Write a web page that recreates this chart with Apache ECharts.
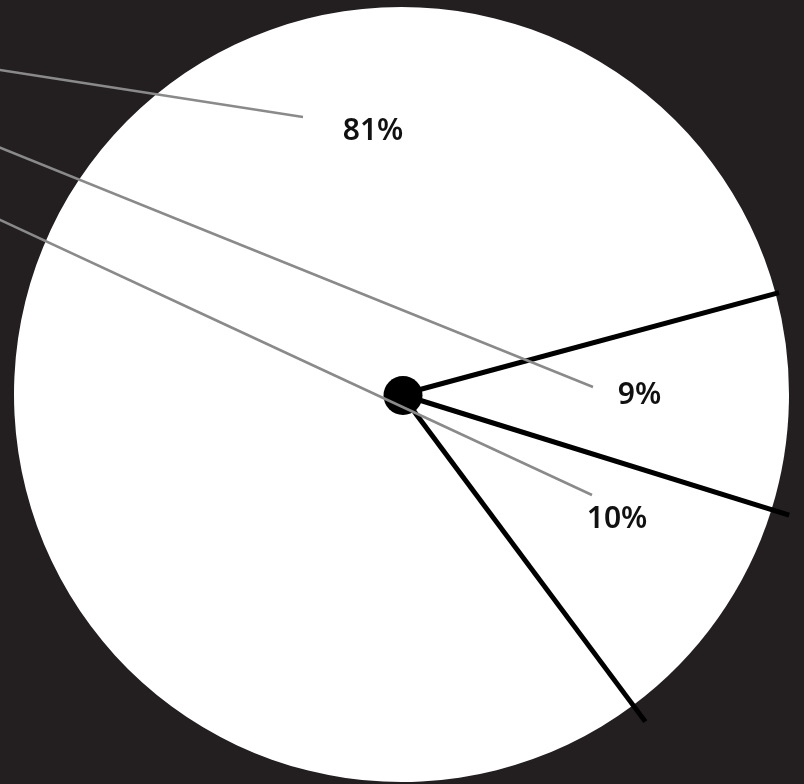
<!DOCTYPE html>
<html>
<head>
<meta charset="utf-8">
<style>
  html, body { margin: 0; padding: 0; background: #231f20; }
  #chart { width: 804px; height: 784px; }
</style>
<script src="https://cdn.jsdelivr.net/npm/echarts@6/dist/echarts.min.js"></script>
</head>
<body>
<div id="chart"></div>
<script>
// ---- data ----
const categories = ['A', 'B', 'C'];
const values = [9, 10, 81];

// ---- layout / style (not data) ----
const CENTER = [401.5, 394.5];
const RADIUS = 387.5;
const START_ANGLE = 15.1;            // degrees, math convention, slices go clockwise
const SEP_LENGTH = [391, 406, 408];  // separator line length per slice start
const LABEL_POS = [[639.5, 395.5], [617, 519.5], [373, 131.5]];
const LEADER_END = [[-200, 67], [-200, 127], [-200, 39]];
const LEADER_START = [[593, 387], [592, 495], [303, 117]];

const total = values.reduce((a, b) => a + b, 0);
const startAngles = [];
{
  let acc = START_ANGLE;
  for (let i = 0; i < values.length; i++) {
    startAngles.push(acc);
    acc -= values[i] / total * 360;
  }
}

const chart = echarts.init(document.getElementById('chart'), null, { renderer: 'canvas' });

const pieData = categories.map((c, i) => ({ name: c, value: values[i] }));

chart.setOption({
  backgroundColor: '#231f20',
  animation: false,
  series: [
    {
      type: 'pie',
      z: 1,
      silent: true,
      center: CENTER,
      radius: RADIUS,
      startAngle: START_ANGLE,
      clockwise: true,
      avoidLabelOverlap: false,
      itemStyle: { color: '#ffffff', borderWidth: 0 },
      label: { show: false },
      labelLine: { show: false },
      data: pieData
    },
    {
      type: 'custom',
      coordinateSystem: 'none',
      z: 2,
      silent: true,
      data: values,
      renderItem: function (params, api) {
        const i = params.dataIndex;
        const a = startAngles[i] * Math.PI / 180;
        const L = SEP_LENGTH[i];
        const children = [{
          type: 'line',
          shape: {
            x1: CENTER[0], y1: CENTER[1],
            x2: CENTER[0] + L * Math.cos(a),
            y2: CENTER[1] - L * Math.sin(a)
          },
          style: { stroke: '#000000', lineWidth: 5 }
        }];
        if (i === 0) {
          children.push({
            type: 'circle',
            z2: 10,
            shape: { cx: CENTER[0] + 1.5, cy: CENTER[1] + 1, r: 19.5 },
            style: { fill: '#000000' }
          });
        }
        return { type: 'group', children: children };
      }
    },
    {
      type: 'pie',
      z: 3,
      silent: true,
      center: CENTER,
      radius: RADIUS,
      startAngle: START_ANGLE,
      clockwise: true,
      avoidLabelOverlap: false,
      itemStyle: { color: 'rgba(0,0,0,0)', borderWidth: 0 },
      label: {
        show: true,
        position: 'outside',
        formatter: '{c}%',
        fontFamily: '"Noto Sans", "Open Sans", sans-serif',
        fontWeight: 600,
        fontSize: 30,
        color: '#111111'
      },
      labelLine: {
        show: true,
        lineStyle: { color: '#8a8a8a', width: 2.5 }
      },
      labelLayout: function (p) {
        const i = p.dataIndex;
        return {
          x: LABEL_POS[i][0],
          y: LABEL_POS[i][1],
          align: 'center',
          verticalAlign: 'middle',
          labelLinePoints: [LEADER_START[i],
            [(LEADER_START[i][0] + LEADER_END[i][0]) / 2, (LEADER_START[i][1] + LEADER_END[i][1]) / 2],
            LEADER_END[i]]
        };
      },
      data: pieData
    }
  ]
});
</script>
</body>
</html>
